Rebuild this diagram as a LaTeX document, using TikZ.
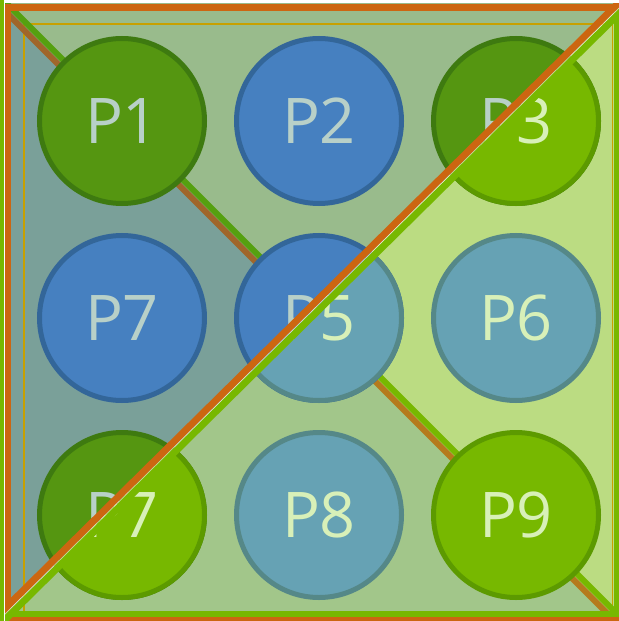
\documentclass[tikz,border=0pt]{standalone}
\usepackage{fontspec}
\setmainfont{Open Sans}
\definecolor{bgtop}{HTML}{99BB8C}
\definecolor{bgleft}{HTML}{7AA099}
\definecolor{bgright}{HTML}{BBDC82}
\definecolor{bgbottom}{HTML}{A2C68A}
\definecolor{ulgreen}{HTML}{559611}
\definecolor{ulgreenD}{HTML}{3E7A10}
\definecolor{ulblue}{HTML}{4680C0}
\definecolor{ulblueD}{HTML}{336699}
\definecolor{ultext}{HTML}{B8D0C8}
\definecolor{lrgreen}{HTML}{77B800}
\definecolor{lrgreenD}{HTML}{5C9A00}
\definecolor{lrteal}{HTML}{66A2B4}
\definecolor{lrtealD}{HTML}{558888}
\definecolor{lrtext}{HTML}{D8F0B8}
\definecolor{orangeL}{HTML}{CC6611}
\definecolor{greenL}{HTML}{77B800}
\definecolor{goldL}{HTML}{C8A000}
\definecolor{diagGul}{HTML}{55A010}
\definecolor{diagBul}{HTML}{A0662A}
\definecolor{diagBlr}{HTML}{B57A1C}
\begin{document}
\begin{tikzpicture}[x=1bp,y=-1bp,
  circ/.style={circle, minimum size=165bp, inner sep=0pt, line width=5bp,
    font=\fontsize{63bp}{63bp}\selectfont},
  ulg/.style={circ, fill=ulgreen, draw=ulgreenD, text=ultext},
  ulb/.style={circ, fill=ulblue, draw=ulblueD, text=ultext},
  lrg/.style={circ, fill=lrgreen, draw=lrgreenD, text=lrtext},
  lrb/.style={circ, fill=lrteal, draw=lrtealD, text=lrtext},
  ulclip/.style={insert path={(-20,638.7) -- (645,-17.6) -- (645,-50) -- (-20,-50) -- cycle}},
  lrclip/.style={insert path={(-20,638.7) -- (645,-17.6) -- (645,700) -- (-20,700) -- cycle}},
  band/.style={line width=6.5bp},
]
\useasboundingbox (0,0) rectangle (619,621);
\coordinate (C) at (310.8,312.3);
% background regions
\begin{scope}
  \clip (5,4) rectangle (619,621);
  \fill[bgtop] (C) -- (-20,-18.5) -- (645,-17.6) -- cycle;
  \fill[bgleft] (C) -- (-20,-18.5) -- (-20,638.7) -- cycle;
  \fill[bgright] (C) -- (645,-17.6) -- (645,646.5) -- cycle;
  \fill[bgbottom] (C) -- (-20,638.7) -- (645,646.5) -- cycle;
  \draw[goldL, line width=1.5bp] (24,24) rectangle (612.5,612.5);
  \begin{scope}
    \clip[ulclip];
    \draw[diagGul, line width=6bp, shift={(2.3,-2.3)}] (-20,-18.5) -- (645,646.5);
    \draw[diagBul, line width=6bp, shift={(-2.3,2.3)}] (-20,-18.5) -- (645,646.5);
  \end{scope}
  \begin{scope}
    \clip[lrclip];
    \draw[greenL, line width=6bp, shift={(2.3,-2.3)}] (-20,-18.5) -- (645,646.5);
    \draw[diagBlr, line width=6bp, shift={(-2.3,2.3)}] (-20,-18.5) -- (645,646.5);
  \end{scope}
\end{scope}
% circles
\node[ulg] (p1) at (122,121) {P1};
\node[ulb] (p2) at (319,121) {P2};
\node[ulg] (p3) at (516,121) {P3};
\node[ulb] (p4) at (122,318) {P7};
\node[ulb] (p5) at (319,318) {P5};
\node[lrb] (p6) at (516,318) {P6};
\node[ulg] (p7) at (122,515) {P7};
\node[lrb] (p8) at (319,515) {P8};
\node[lrg] (p9) at (516,515) {P9};
\begin{scope}
  \clip[lrclip];
  \node[lrg] (p3b) at (516,121) {P3};
  \node[lrb] (p5b) at (319,318) {P5};
  \node[lrg] (p7b) at (122,515) {P7};
\end{scope}
% edge bands
\begin{scope}
  \clip[ulclip];
  \draw[orangeL, line width=7bp] (5,7.5) -- (640,7.5);
  \draw[orangeL, band] (8,4) -- (8,640);
\end{scope}
\begin{scope}
  \clip[lrclip];
  \clip (5,0) rectangle (619,621);
  \draw[greenL, band] (0,614) -- (640,614);
  \draw[greenL, band] (617,-10) -- (617,614);
\end{scope}
\draw[orangeL, band] (5,620.5) -- (619,620.5);
\draw[greenL, line width=5bp] (1.5,0) -- (1.5,621);
% anti-diagonal
\begin{scope}
  \clip (5,4) rectangle (619,621);
  \draw[greenL, line width=7bp, shift={(2.75,2.8)}] (-20,638.7) -- (645,-17.6);
  \draw[orangeL, line width=7bp, shift={(-2.75,-2.8)}] (-20,638.7) -- (645,-17.6);
  \draw[white, line width=0.7bp, opacity=0.6] (-20,638.7) -- (645,-17.6);
\end{scope}
\end{tikzpicture}
\end{document}
